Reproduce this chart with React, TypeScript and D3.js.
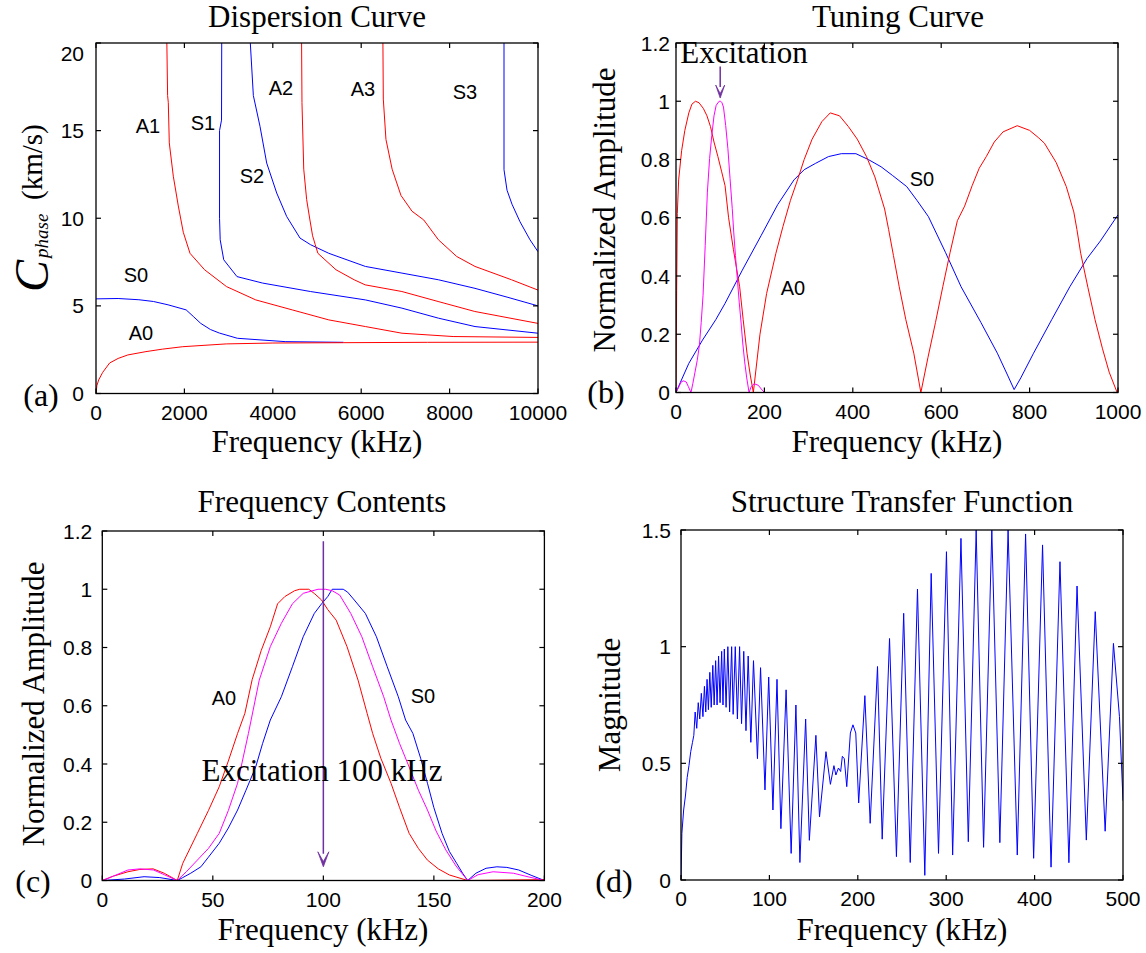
import React from "react";
import * as d3 from "d3";

type Pt = [number, number];

// ---------- (a) Dispersion curve: [frequency kHz, phase velocity km/s] ----------
const dispA0: Pt[] = [[0, 0], [20, 0.45], [60, 0.77], [150, 1.2], [308, 1.74], [500, 2.0], [720, 2.2], [1130, 2.39], [1500, 2.53], [1960, 2.67], [2950, 2.83], [4000, 2.88], [5600, 2.9], [7500, 2.92], [10000, 2.93]];
const dispS0: Pt[] = [[0, 5.4], [500, 5.42], [970, 5.35], [1300, 5.25], [1630, 5.06], [2040, 4.77], [2200, 4.4], [2370, 4.0], [2590, 3.65], [2790, 3.45], [3200, 3.15], [4280, 2.96], [5600, 2.92]];
const dispA1: Pt[] = [[1600, 20.5], [1620, 17], [1636, 16.6], [1658, 14.3], [1749, 12.4], [1862, 10.7], [1975, 9.2], [2127, 8.0], [2457, 7.06], [2953, 6.1], [3615, 5.34], [4440, 4.77], [5267, 4.2], [6095, 3.82], [6922, 3.44], [8080, 3.25], [10000, 3.2]];
const dispS1: Pt[] = [[2845, 20.5], [2840, 15.6], [2795, 15.0], [2795, 10], [2810, 8.77], [2890, 7.63], [3190, 6.67], [3770, 6.3], [4850, 5.82], [6095, 5.34], [6922, 4.87], [7746, 4.3], [8575, 3.82], [10000, 3.44]];
const dispS2: Pt[] = [[3480, 20.5], [3560, 17], [3710, 15.25], [3862, 13.15], [4088, 11.44], [4314, 10.1], [4615, 8.87], [4855, 8.49], [5267, 8.0], [6095, 7.25], [6922, 6.87], [7746, 6.49], [8575, 6.0], [9300, 5.5], [10000, 5.0]];
const dispA2: Pt[] = [[4650, 20.5], [4660, 16.6], [4700, 12.8], [4766, 11.06], [4840, 9.9], [4900, 9.0], [4960, 8.5], [5020, 8.0], [5430, 7.06], [5840, 6.49], [6090, 6.2], [6920, 5.82], [7740, 5.25], [8570, 4.68], [10000, 4.0]];
const dispA3: Pt[] = [[6490, 20.5], [6500, 16.8], [6560, 14.5], [6700, 12.8], [6900, 11.3], [7150, 10.4], [7416, 9.9], [7747, 8.77], [8160, 7.82], [8575, 7.25], [9400, 6.49], [10000, 5.9]];
const dispS3: Pt[] = [[9231, 20.5], [9231, 12.77], [9299, 11.6], [9412, 10.8], [9593, 9.8], [9819, 8.77], [10000, 8.09]];
const dispLabels: [string, number, number][] = [["A1", 148, 126], ["S1", 203, 123], ["A2", 281, 88], ["A3", 363, 89], ["S3", 465, 92], ["S2", 252, 176], ["S0", 136, 275], ["A0", 141, 333]];

// ---------- (b) Tuning curve: [frequency kHz, normalized amplitude] ----------
const tuneA0: Pt[] = [[0, 0], [1.5, 0.35], [3, 0.615], [6, 0.73], [12.7, 0.83], [20, 0.9], [29, 0.96], [36, 0.99], [44, 1.0], [52, 0.995], [62, 0.975], [70, 0.95], [78, 0.913], [86, 0.86], [94.8, 0.81], [103, 0.76], [111, 0.71], [119, 0.6], [130, 0.49], [144, 0.363], [152, 0.25], [160.6, 0.135], [168, 0.06], [175, 0],
  [190, 0.2], [205, 0.34], [226, 0.478], [242, 0.57], [259, 0.66], [275, 0.73], [290, 0.8], [308, 0.87], [330, 0.93], [349, 0.96], [370, 0.95], [390, 0.913], [410, 0.87], [431, 0.81], [450, 0.74], [472, 0.63], [481, 0.56], [492, 0.47], [505, 0.363], [520, 0.25], [538, 0.135], [554, 0],
  [570, 0.12], [587, 0.24], [603.6, 0.363], [620, 0.48], [636.6, 0.59], [653, 0.64], [670, 0.71], [686, 0.77], [702, 0.81], [720, 0.86], [740, 0.895], [772, 0.916], [800, 0.9], [820, 0.875], [833.5, 0.856], [860, 0.79], [883, 0.707], [900, 0.62], [907, 0.56], [915.6, 0.478], [932, 0.36], [948, 0.25], [965, 0.15], [980, 0.07], [998, 0], [1000, 0]];
const tuneS0: Pt[] = [[0, 0], [10, 0.035], [29, 0.1], [60, 0.18], [90, 0.25], [111, 0.306], [150, 0.42], [193, 0.54], [230, 0.645], [267, 0.73], [290, 0.765], [316, 0.787], [345, 0.81], [374, 0.82], [407, 0.82], [435, 0.8], [464, 0.775], [490, 0.745], [522, 0.707], [545, 0.66], [571, 0.604], [610, 0.48], [645, 0.363], [690, 0.24], [727, 0.135], [750, 0.06], [765, 0.01], [780, 0.05], [809, 0.135], [850, 0.25], [891, 0.363], [930, 0.46], [960, 0.52], [1000, 0.61]];

// ---------- (c) Frequency contents: [frequency kHz, normalized amplitude] ----------
const excitation: Pt[] = [[0, 0], [5, 0.015], [11.6, 0.036], [17, 0.04], [23.2, 0.036], [28, 0.02], [33.9, 0], [38, 0.03], [43, 0.07], [48, 0.11], [52.9, 0.162], [57, 0.24], [61.2, 0.334], [66.1, 0.505], [71, 0.688], [76, 0.803], [81, 0.883], [86, 0.95], [90.9, 0.986], [97.6, 1], [101, 1], [104, 0.995], [107.4, 0.98], [112.4, 0.917], [117.4, 0.837], [122.3, 0.734], [127.3, 0.631], [130.6, 0.551], [134.5, 0.47], [138.8, 0.39], [143, 0.31], [147.1, 0.242], [151, 0.17], [155.4, 0.105], [160, 0.05], [165.3, 0], [170, 0.02], [176.8, 0.03], [186, 0.025], [193, 0.012], [200, 0]];
const excitationTail: Pt[] = [[1000, 0]];
const contentA0: Pt[] = [[0, 0], [5, 0.015], [11.6, 0.03], [17, 0.038], [23, 0.04], [28, 0.025], [33.9, 0], [36.4, 0.059], [43, 0.162], [48, 0.24], [52.9, 0.322], [57, 0.41], [61.2, 0.505], [64.5, 0.574], [67.8, 0.69], [71.9, 0.79], [76, 0.871], [79.3, 0.95], [82.6, 0.975], [87, 0.995], [89.3, 1], [93.4, 1], [96, 0.985], [99.2, 0.963], [102, 0.93], [105.8, 0.894], [110.7, 0.803], [115.7, 0.688], [119.8, 0.574], [122.3, 0.505], [126, 0.42], [130.6, 0.334], [134.5, 0.25], [138.8, 0.162], [143, 0.11], [147.1, 0.07], [152, 0.04], [157, 0.019], [165.3, 0], [200, 0.003]];
const contentS0: Pt[] = [[0, 0], [10, 0.005], [18.9, 0.013], [26, 0.01], [33.9, 0], [36.4, 0.01], [40, 0.025], [44.6, 0.047], [48, 0.08], [52.9, 0.128], [57, 0.18], [61.2, 0.242], [65, 0.31], [69.4, 0.39], [72.5, 0.47], [76, 0.551], [81, 0.631], [86, 0.734], [90.9, 0.837], [95.9, 0.917], [99.2, 0.95], [102, 0.975], [104, 1], [109, 1], [111, 0.99], [114, 0.963], [119, 0.917], [124, 0.837], [128.9, 0.734], [133.9, 0.631], [137.2, 0.551], [140.5, 0.505], [144, 0.42], [147.1, 0.334], [150, 0.25], [153.7, 0.162], [157, 0.1], [160.3, 0.059], [163, 0.025], [165.3, 0], [169, 0.025], [173.6, 0.042], [178.5, 0.047], [183, 0.045], [188.4, 0.036], [194, 0.018], [200, 0]];

// ---------- (d) Structure transfer function: [frequency kHz, magnitude] ----------
const transferLow: Pt[] = [[0, 0], [1, 0.2], [3, 0.3], [5, 0.36], [7, 0.44], [9, 0.49], [11, 0.55], [13, 0.59],
  [14.5, 0.62], [16, 0.72], [17.8, 0.65], [19.5, 0.76], [21.2, 0.69], [23, 0.8], [24.8, 0.7], [26.5, 0.83], [28, 0.72], [29.5, 0.86], [31, 0.73], [32.6, 0.89], [34.2, 0.74], [36, 0.92], [37.5, 0.75], [39.2, 0.94], [40.8, 0.75], [42.5, 0.96], [44.2, 0.76], [46, 0.98], [47.5, 0.75], [49, 0.99], [51, 0.74], [53, 1.0], [55, 0.72], [57.3, 1.0], [59, 0.71], [61.4, 1.0], [63.8, 0.69], [66.3, 1.0], [68.5, 0.67], [71, 0.98], [73.5, 0.64], [76, 0.96], [79, 0.59], [82, 0.94], [86.5, 0.52], [90, 0.91], [95, 0.386], [99.2, 0.87], [104, 0.3], [108.6, 0.86], [113, 0.22], [118.9, 0.815], [124.6, 0.114], [130, 0.75], [134.5, 0.075], [141, 0.69], [145.2, 0.17], [152.6, 0.62], [156.7, 0.27], [164, 0.55], [169, 0.41], [173, 0.49], [175.2, 0.45], [178.1, 0.48], [180.6, 0.465], [182.5, 0.53], [184.7, 0.52], [187.5, 0.4], [191.6, 0.63], [194.5, 0.665], [197.7, 0.63], [201, 0.33]];
const transferHigh: Pt[] = [[208, 0.79], [214, 0.243], [222.3, 0.915], [227.6, 0.175], [235.9, 1.035], [243.7, 0.1], [251.9, 1.143], [259.3, 0.075], [267.5, 1.247], [275.8, 0.02], [283, 1.314], [291.3, 0.114], [300.3, 1.407], [307.3, 0.107], [316.7, 1.464], [325, 0.164], [333.9, 1.5], [342.3, 0.14], [351.6, 1.5], [360.7, 0.16], [370, 1.5], [380.4, 0.107], [389.8, 1.483], [398.9, 0.093], [409, 1.436], [418.6, 0.055], [428.7, 1.364], [438.8, 0.074], [448, 1.26], [458.5, 0.171], [468.6, 1.15], [479.8, 0.209], [489.2, 1.014], [496, 0.7], [500, 0.34]];

// ---------- ticks ----------
const ticksA_x = [0, 2000, 4000, 6000, 8000, 10000];
const ticksA_y = [0, 5, 10, 15, 20];
const ticksB_x = [0, 200, 400, 600, 800, 1000];
const ticksB_y = [0, 0.2, 0.4, 0.6, 0.8, 1, 1.2];
const ticksC_x = [0, 50, 100, 150, 200];
const ticksC_y = [0, 0.2, 0.4, 0.6, 0.8, 1, 1.2];
const ticksD_x = [0, 100, 200, 300, 400, 500];
const ticksD_y = [0, 0.5, 1, 1.5];

const SERIF = "'Liberation Serif', 'Times New Roman', Times, serif";
const SANS = "'Liberation Sans', Arial, Helvetica, sans-serif";
const RED = "#ff0000";
const BLUE = "#0000ff";
const MAG = "#ff00ff";
const PURPLE = "#7030a0";

type Scale = d3.ScaleLinear<number, number>;

function Axes(p: { id: string; x: Scale; y: Scale; xTicks: number[]; yTicks: number[]; yGap: number; topLabelMin?: number; children?: React.ReactNode }) {
  const [x0, x1] = p.x.range();
  const [yb, yt] = p.y.range();
  const T = 5;
  return (
    <g>
      <defs>
        <clipPath id={p.id}>
          <rect x={x0} y={yt} width={x1 - x0} height={yb - yt} />
        </clipPath>
      </defs>
      <g clipPath={`url(#${p.id})`}>{p.children}</g>
      <rect x={x0} y={yt} width={x1 - x0} height={yb - yt} fill="none" stroke="#000" strokeWidth={1.3} />
      {p.xTicks.map((t) => (
        <g key={"x" + t}>
          <line x1={p.x(t)} x2={p.x(t)} y1={yb} y2={yb - T} stroke="#000" strokeWidth={1.2} />
          <line x1={p.x(t)} x2={p.x(t)} y1={yt} y2={yt + T} stroke="#000" strokeWidth={1.2} />
          <text x={p.x(t)} y={yb + 26} textAnchor="middle" fontFamily={SANS} fontSize={21}>{String(t)}</text>
        </g>
      ))}
      {p.yTicks.map((t) => {
        let ly = p.y(t);
        if (p.topLabelMin !== undefined) ly = Math.max(ly, p.topLabelMin);
        return (
          <g key={"y" + t}>
            <line x1={x0} x2={x0 + T} y1={p.y(t)} y2={p.y(t)} stroke="#000" strokeWidth={1.2} />
            <line x1={x1} x2={x1 - T} y1={p.y(t)} y2={p.y(t)} stroke="#000" strokeWidth={1.2} />
            <text x={x0 - p.yGap} y={ly + 7.5} textAnchor="end" fontFamily={SANS} fontSize={21}>{String(t)}</text>
          </g>
        );
      })}
    </g>
  );
}

function Arrow({ x, y1, y2, hw, hh }: { x: number; y1: number; y2: number; hw: number; hh: number }) {
  return (
    <g>
      <line x1={x} x2={x} y1={y1} y2={y2 - hh + 2} stroke={PURPLE} strokeWidth={1.5} />
      <path d={`M${x - hw / 2},${y2 - hh} L${x},${y2 - hh * 0.35} L${x + hw / 2},${y2 - hh} L${x},${y2} Z`} fill={PURPLE} stroke={PURPLE} strokeWidth={0.8} />
    </g>
  );
}

export default function App() {
  const W = 1146, H = 953;
  const xa = d3.scaleLinear().domain([0, 10000]).range([96, 538]);
  const ya = d3.scaleLinear().domain([0, 20]).range([393.5, 43]);
  const xb = d3.scaleLinear().domain([0, 1000]).range([676, 1118]);
  const yb = d3.scaleLinear().domain([0, 1.2]).range([392.5, 43]);
  const xc = d3.scaleLinear().domain([0, 200]).range([102.3, 544.4]);
  const yc = d3.scaleLinear().domain([0, 1.2]).range([880.5, 531]);
  const xd = d3.scaleLinear().domain([0, 500]).range([681, 1123]);
  const yd = d3.scaleLinear().domain([0, 1.5]).range([880, 530]);
  const mk = (x: Scale, y: Scale) => d3.line<Pt>().x((d) => x(d[0])).y((d) => y(d[1]));
  const la = mk(xa, ya), lb = mk(xb, yb), lc = mk(xc, yc), ld = mk(xd, yd);
  const cs = { fill: "none", strokeWidth: 1, strokeLinejoin: "round" as const };

  return (
    <svg width={W} height={H} style={{ position: "absolute", left: 0, top: 0, background: "#fff" }}>
      <rect x={0} y={0} width={W} height={H} fill="#fff" />

      {/* (a) */}
      <text x={317} y={27} textAnchor="middle" fontFamily={SERIF} fontSize={31}>Dispersion Curve</text>
      <Axes id="clipA" x={xa} y={ya} xTicks={ticksA_x} yTicks={ticksA_y} yGap={12} topLabelMin={53}>
        <path d={la(dispS0)!} stroke={BLUE} {...cs} />
        <path d={la(dispS1)!} stroke={BLUE} {...cs} />
        <path d={la(dispS2)!} stroke={BLUE} {...cs} />
        <path d={la(dispS3)!} stroke={BLUE} {...cs} />
        <path d={la(dispA0)!} stroke={RED} {...cs} />
        <path d={la(dispA1)!} stroke={RED} {...cs} />
        <path d={la(dispA2)!} stroke={RED} {...cs} />
        <path d={la(dispA3)!} stroke={RED} {...cs} />
      </Axes>
      {dispLabels.map(([t, x, y]) => (
        <text key={t} x={x} y={y + 7} textAnchor="middle" fontFamily={SANS} fontSize={20}>{t}</text>
      ))}
      <text transform="translate(48,292) rotate(-90)" fontFamily={SERIF}>
        <tspan fontSize={48} fontStyle="italic">C</tspan>
        <tspan fontSize={19} fontStyle="italic" dx={2}>phase</tspan>
      </text>
      <text transform="translate(42,200) rotate(-90)" fontFamily={SERIF} fontSize={29}>(km/s)</text>
      <text x={317} y={452} textAnchor="middle" fontFamily={SERIF} fontSize={31}>Frequency (kHz)</text>
      <text x={41} y={406} textAnchor="middle" fontFamily={SERIF} fontSize={32}>(a)</text>

      {/* (b) */}
      <text x={898} y={27} textAnchor="middle" fontFamily={SERIF} fontSize={31}>Tuning Curve</text>
      <Axes id="clipB" x={xb} y={yb} xTicks={ticksB_x} yTicks={ticksB_y} yGap={6}>
        <path d={lb(tuneS0)!} stroke={BLUE} {...cs} />
        <path d={lb(tuneA0)!} stroke={RED} {...cs} />
        <path d={lb([...excitation, ...excitationTail])!} stroke={MAG} {...cs} />
      </Axes>
      <text x={744} y={63} textAnchor="middle" fontFamily={SERIF} fontSize={31}>Excitation</text>
      <Arrow x={xb(100)} y1={yb(1.119)} y2={yb(1.011)} hw={9} hh={13} />
      <text x={922} y={186} textAnchor="middle" fontFamily={SANS} fontSize={20}>S0</text>
      <text x={793} y={295} textAnchor="middle" fontFamily={SANS} fontSize={20}>A0</text>
      <text transform="translate(615,210) rotate(-90)" textAnchor="middle" fontFamily={SERIF} fontSize={31}>Normalized Amplitude</text>
      <text x={897} y={452} textAnchor="middle" fontFamily={SERIF} fontSize={31}>Frequency (kHz)</text>
      <text x={606} y={403} textAnchor="middle" fontFamily={SERIF} fontSize={32}>(b)</text>

      {/* (c) */}
      <text x={322} y={512} textAnchor="middle" fontFamily={SERIF} fontSize={31}>Frequency Contents</text>
      <Axes id="clipC" x={xc} y={yc} xTicks={ticksC_x} yTicks={ticksC_y} yGap={10}>
        <path d={lc(contentS0)!} stroke={BLUE} {...cs} />
        <path d={lc(contentA0)!} stroke={RED} {...cs} />
        <path d={lc(excitation)!} stroke={MAG} {...cs} />
      </Axes>
      <Arrow x={xc(100)} y1={yc(1.165)} y2={yc(0.047)} hw={11} hh={15} />
      <text x={322} y={781} textAnchor="middle" fontFamily={SERIF} fontSize={31}>Excitation 100 kHz</text>
      <text x={224} y={705} textAnchor="middle" fontFamily={SANS} fontSize={20}>A0</text>
      <text x={423} y={703} textAnchor="middle" fontFamily={SANS} fontSize={20}>S0</text>
      <text transform="translate(44,704) rotate(-90)" textAnchor="middle" fontFamily={SERIF} fontSize={31}>Normalized Amplitude</text>
      <text x={323} y={940} textAnchor="middle" fontFamily={SERIF} fontSize={31}>Frequency (kHz)</text>
      <text x={33} y={892} textAnchor="middle" fontFamily={SERIF} fontSize={32}>(c)</text>

      {/* (d) */}
      <text x={902} y={512} textAnchor="middle" fontFamily={SERIF} fontSize={31}>Structure Transfer Function</text>
      <Axes id="clipD" x={xd} y={yd} xTicks={ticksD_x} yTicks={ticksD_y} yGap={10}>
        <path d={ld([...transferLow, ...transferHigh])!} stroke={BLUE} {...cs} />
      </Axes>
      <text transform="translate(620,705) rotate(-90)" textAnchor="middle" fontFamily={SERIF} fontSize={31}>Magnitude</text>
      <text x={902} y={940} textAnchor="middle" fontFamily={SERIF} fontSize={31}>Frequency (kHz)</text>
      <text x={614} y={892} textAnchor="middle" fontFamily={SERIF} fontSize={32}>(d)</text>
    </svg>
  );
}
